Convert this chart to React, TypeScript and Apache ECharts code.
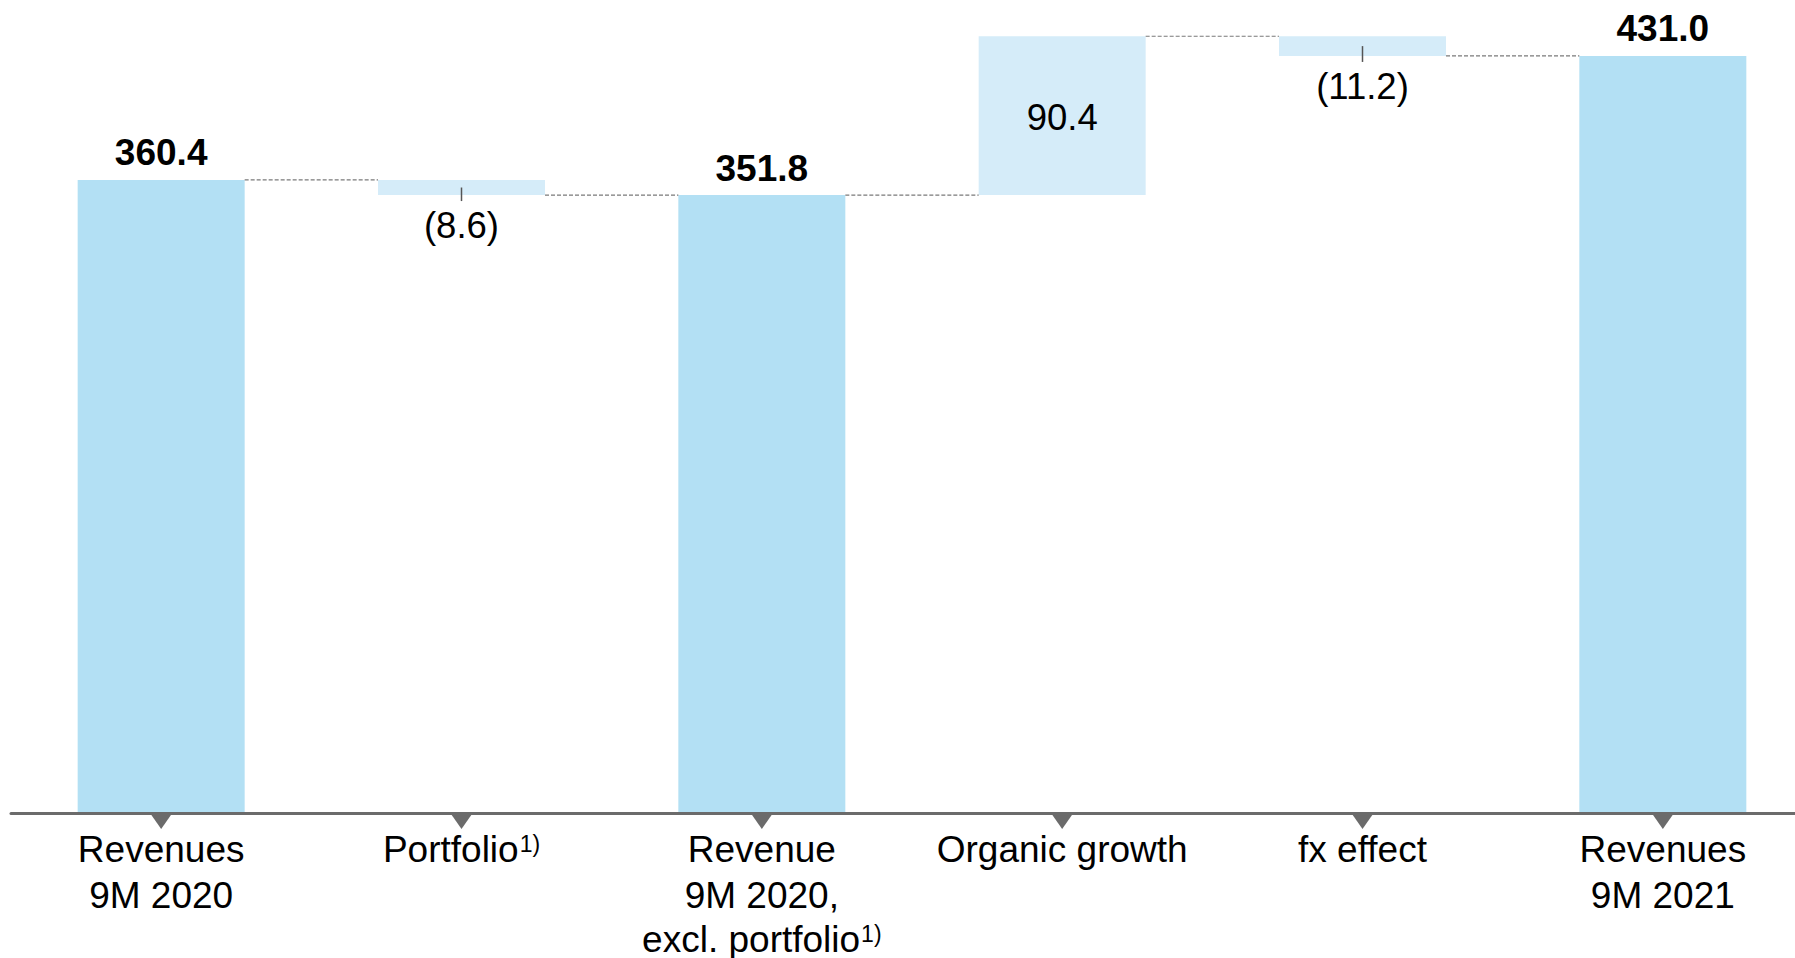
import React, { useEffect, useRef } from "react";
import * as echarts from "echarts";

const categories = [
  "Revenues\n9M 2020",
  "Portfolio",
  "Revenue\n9M 2020,\nexcl. portfolio",
  "Organic growth",
  "fx effect",
  "Revenues\n9M 2021",
];
const footnotes = ["", "1)", "1)", "", "", ""];
const values = [360.4, -8.6, 351.8, 90.4, -11.2, 431.0];
const isTotal = [true, false, true, false, false, true];

const FONT = '"Liberation Sans", Arial, Helvetica, sans-serif';
const BAR_W = 167;
const TOTAL_COLOR = "#b3e0f4";
const DELTA_COLOR = "#d5ecf9";

export default function App() {
  const ref = useRef<HTMLDivElement>(null);

  useEffect(() => {
    const chart = echarts.init(ref.current!, null, { renderer: "svg" });

    const bases: number[] = [];
    const heights: number[] = [];
    const before: number[] = [];
    const after: number[] = [];
    let running = 0;
    values.forEach((v, i) => {
      if (isTotal[i]) {
        bases.push(0);
        heights.push(v);
        before.push(v);
        running = v;
        after.push(v);
      } else {
        before.push(running);
        const next = running + v;
        bases.push(Math.min(running, next));
        heights.push(Math.abs(v));
        running = next;
        after.push(next);
      }
    });

    const visibleData = values.map((v, i) => {
      if (isTotal[i]) {
        return {
          value: heights[i],
          itemStyle: { color: TOTAL_COLOR },
          label: {
            show: true,
            position: "top",
            distance: 8.5,
            formatter: v.toFixed(1),
            fontWeight: "bold",
            fontSize: 37,
            fontFamily: FONT,
            color: "#000",
          },
        };
      }
      if (v < 0) {
        return {
          value: heights[i],
          itemStyle: { color: DELTA_COLOR },
          label: {
            show: true,
            position: "bottom",
            distance: 12,
            formatter: "(" + Math.abs(v).toFixed(1) + ")",
            fontSize: 36.5,
            fontFamily: FONT,
            color: "#000",
          },
        };
      }
      return {
        value: heights[i],
        itemStyle: { color: DELTA_COLOR },
        label: {
          show: true,
          position: "inside",
          offset: [0, 2],
          formatter: v.toFixed(1),
          fontSize: 36.5,
          fontFamily: FONT,
          color: "#000",
        },
      };
    });

    const connectorData = values.slice(0, values.length - 1).map((_, i) => [i, after[i]]);
    const tickData: number[][] = [];
    values.forEach((v, i) => {
      if (!isTotal[i] && v < 0) tickData.push([i, before[i], after[i]]);
    });
    const triData = categories.map((_, i) => [i, 0]);

    const option: any = {
      animation: false,
      backgroundColor: "#ffffff",
      grid: {
        left: 11,
        width: 1802,
        top: 5,
        bottom: 145,
        containLabel: false,
        outerBoundsMode: "none",
      },
      xAxis: {
        type: "category",
        data: categories,
        z: 3,
        axisLine: { show: true, lineStyle: { color: "#6b6b6b", width: 3 } },
        axisTick: { show: false },
        splitLine: { show: false },
        axisLabel: {
          interval: 0,
          margin: 13,
          fontSize: 37,
          lineHeight: 46,
          fontFamily: FONT,
          color: "#000",
          formatter: (val: string, idx: number) => {
            const lines = val.split("\n");
            const out = lines.map((ln, k) => (k >= 2 ? "{l3|" + ln + "}" : ln));
            if (footnotes[idx]) out[out.length - 1] += "{sup|" + footnotes[idx] + "}";
            return out.join("\n");
          },
          rich: {
            sup: { fontSize: 23, lineHeight: 30, fontFamily: FONT, color: "#000", padding: [0, 0, 11, 1] },
            l3: { fontSize: 37, lineHeight: 42, fontFamily: FONT, color: "#000" },
          },
        },
      },
      yAxis: {
        type: "value",
        min: 0,
        max: 460,
        show: false,
        splitLine: { show: false },
      },
      series: [
        {
          type: "bar",
          stack: "wf",
          barWidth: BAR_W,
          silent: true,
          itemStyle: { color: "transparent" },
          data: bases,
        },
        {
          type: "bar",
          stack: "wf",
          barWidth: BAR_W,
          silent: true,
          data: visibleData,
        },
        {
          type: "custom",
          silent: true,
          clip: false,
          z: 4,
          data: connectorData,
          renderItem: (_p: any, api: any) => {
            const i = api.value(0);
            const lvl = api.value(1);
            const p = api.coord([i, lvl]);
            const q = api.coord([i + 1, lvl]);
            return {
              type: "line",
              shape: { x1: p[0] + BAR_W / 2, y1: p[1], x2: q[0] - BAR_W / 2, y2: q[1] },
              style: { stroke: "#7a7a7a", lineWidth: 1.2, lineDash: [4, 2] },
            };
          },
        },
        {
          type: "custom",
          silent: true,
          clip: false,
          z: 4,
          data: tickData,
          renderItem: (_p: any, api: any) => {
            const i = api.value(0);
            const top = api.value(1);
            const bot = api.value(2);
            const m = api.coord([i, (top + bot) / 2]);
            const b = api.coord([i, bot]);
            return {
              type: "line",
              shape: { x1: m[0], y1: m[1], x2: b[0], y2: b[1] + 6 },
              style: { stroke: "#555555", lineWidth: 1.5 },
            };
          },
        },
        {
          type: "custom",
          silent: true,
          clip: false,
          z: 5,
          data: triData,
          renderItem: (_p: any, api: any) => {
            const i = api.value(0);
            const p = api.coord([i, api.value(1)]);
            return {
              type: "polygon",
              shape: {
                points: [
                  [p[0] - 10.5, p[1] + 1],
                  [p[0] + 10.5, p[1] + 1],
                  [p[0], p[1] + 16],
                ],
              },
              style: { fill: "#6b6b6b" },
            };
          },
        },
      ],
    };

    chart.setOption(option);
    return () => {
      chart.dispose();
    };
  }, []);

  return (
    <div
      ref={ref}
      style={{ position: "absolute", left: 0, top: 0, width: 1795, height: 958, background: "#fff" }}
    />
  );
}
